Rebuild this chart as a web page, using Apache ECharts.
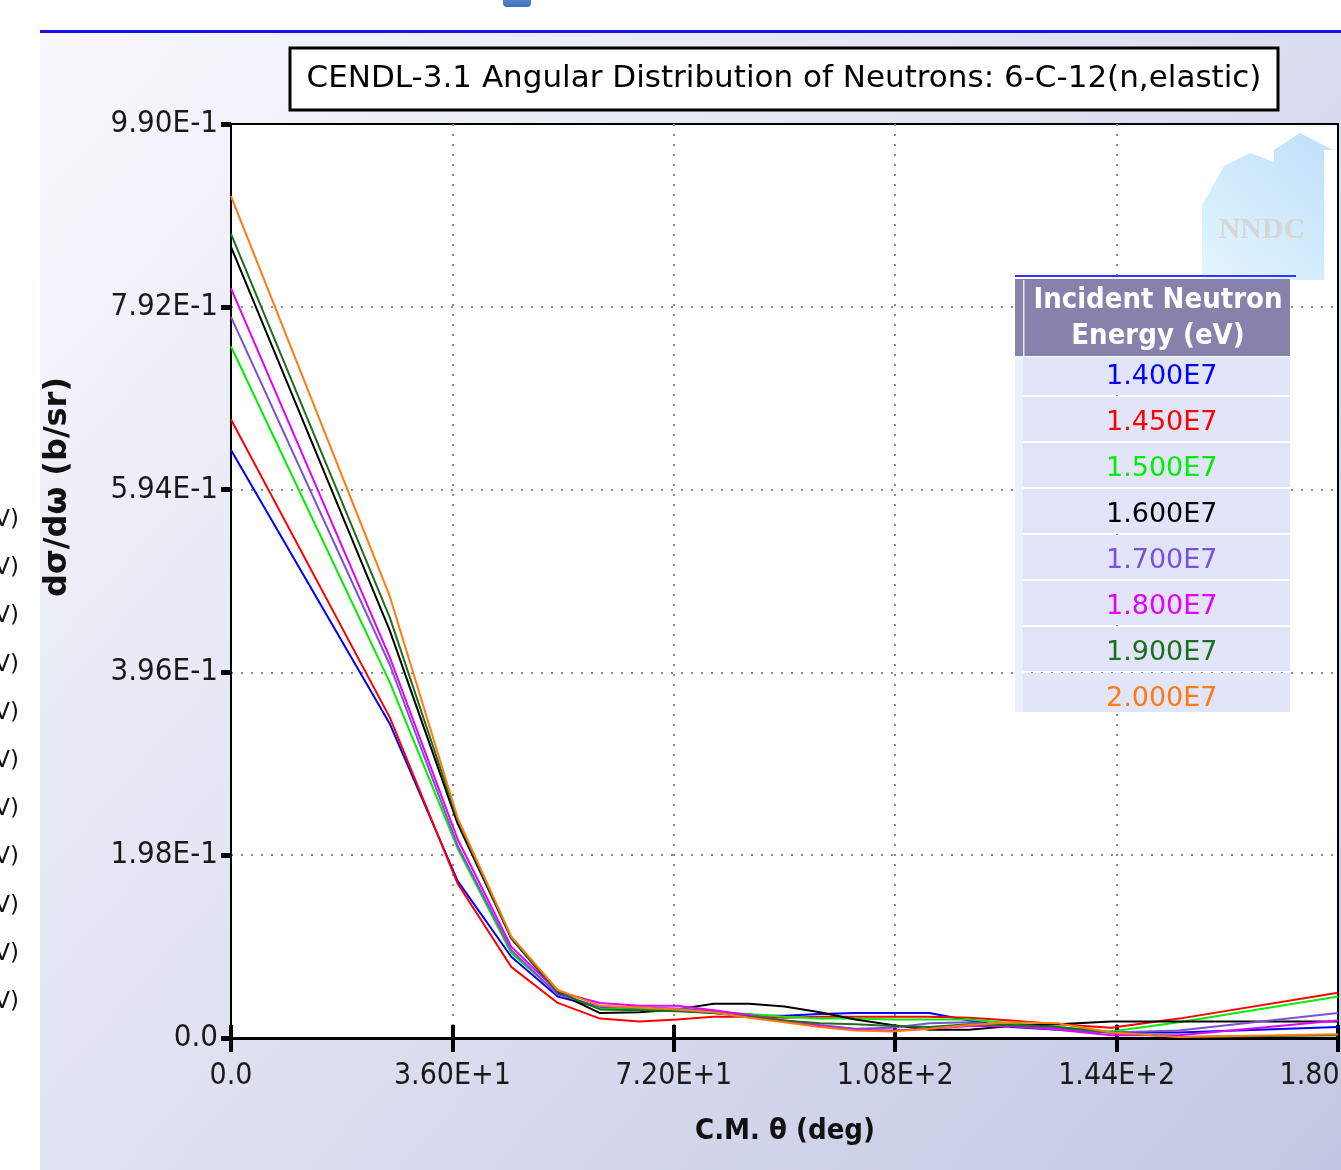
<!DOCTYPE html>
<html>
<head>
<meta charset="utf-8">
<script src="https://cdn.jsdelivr.net/npm/echarts@6/dist/echarts.min.js"></script>
<style>
  html, body { margin: 0; padding: 0; background: #fff; }
  #angular-chart { width: 1341px; height: 1170px; }
</style>
</head>
<body>
<div id="angular-chart"></div>
<script>
// C.M. angles (deg) of the tabulated points
const angles = [0, 25.84, 36.87, 45.57, 53.13, 60, 66.42, 72.54, 78.46, 84.26, 90, 95.74, 101.54, 107.46, 113.58, 120, 126.87, 134.43, 143.13, 154.16, 180];

// dσ/dω (b/sr) per incident energy
const e1400 = [0.637, 0.340, 0.170, 0.088, 0.045, 0.033, 0.031, 0.030, 0.027, 0.024, 0.024, 0.026, 0.027, 0.027, 0.027, 0.019, 0.012, 0.009, 0.006, 0.006, 0.012];
const e1450 = [0.670, 0.347, 0.167, 0.077, 0.038, 0.021, 0.018, 0.020, 0.023, 0.023, 0.022, 0.023, 0.023, 0.023, 0.023, 0.022, 0.019, 0.015, 0.011, 0.021, 0.049];
const e1500 = [0.749, 0.385, 0.205, 0.092, 0.048, 0.032, 0.031, 0.030, 0.028, 0.026, 0.023, 0.021, 0.021, 0.020, 0.020, 0.020, 0.016, 0.012, 0.007, 0.017, 0.045];
const e1600 = [0.857, 0.441, 0.232, 0.108, 0.049, 0.027, 0.028, 0.031, 0.037, 0.037, 0.034, 0.028, 0.020, 0.014, 0.009, 0.009, 0.013, 0.015, 0.018, 0.018, 0.018];
const e1700 = [0.781, 0.404, 0.208, 0.095, 0.047, 0.034, 0.033, 0.032, 0.029, 0.024, 0.019, 0.014, 0.010, 0.011, 0.016, 0.017, 0.013, 0.010, 0.006, 0.008, 0.027];
const e1800 = [0.812, 0.412, 0.215, 0.099, 0.050, 0.038, 0.035, 0.035, 0.030, 0.025, 0.018, 0.013, 0.009, 0.008, 0.010, 0.013, 0.013, 0.009, 0.003, 0.003, 0.019];
const e1900 = [0.871, 0.455, 0.236, 0.108, 0.050, 0.031, 0.030, 0.029, 0.027, 0.023, 0.019, 0.016, 0.015, 0.013, 0.012, 0.015, 0.014, 0.012, 0.006, 0.001, 0.003];
const e2000 = [0.912, 0.478, 0.238, 0.110, 0.052, 0.035, 0.033, 0.031, 0.028, 0.022, 0.017, 0.012, 0.008, 0.007, 0.010, 0.014, 0.017, 0.016, 0.006, 0.001, 0.004];

const energyNames = ['1.400E7', '1.450E7', '1.500E7', '1.600E7', '1.700E7', '1.800E7', '1.900E7', '2.000E7'];
const energyValues = [e1400, e1450, e1500, e1600, e1700, e1800, e1900, e2000];
const energyColors = ['#0000ff', '#ff0000', '#00ee00', '#000000', '#7b52d6', '#e400ff', '#1f6e1f', '#ff7a10'];

const xTickLabels = ['0.0', '3.60E+1', '7.20E+1', '1.08E+2', '1.44E+2', '1.80E+2'];
const yTickLabels = ['0.0', '1.98E-1', '3.96E-1', '5.94E-1', '7.92E-1', '9.90E-1'];

const condensed = '"DejaVu Sans Condensed", "DejaVu Sans", sans-serif';

const initChart = () => {
  const chartDom = document.getElementById('angular-chart');
  const myChart = echarts.init(chartDom, null, {renderer: 'canvas'});

  const series = energyNames.map((name, k) => ({
    name: name,
    type: 'line',
    showSymbol: false,
    data: angles.map((a, i) => [a, energyValues[k][i]]),
    lineStyle: {color: energyColors[k], width: 2},
    itemStyle: {color: energyColors[k]},
    z: 2 + k * 0.01
  }));

  // left margin leftovers from the neighbouring page
  const strayTexts = [];
  for (let i = 0; i < 11; i++) {
    strayTexts.push({
      type: 'text', z: 5,
      style: {x: 19, y: 520 + i * 48.2, text: 'eV)', align: 'right', verticalAlign: 'middle',
        font: '23px "DejaVu Sans", sans-serif', fill: '#111'}
    });
  }

  // legend table rows (first and last are a little shorter)
  const legendRows = energyNames.map((n, i) => {
    const top = Math.max(357, 351 + i * 46);
    const bottom = Math.min(712, 395 + i * 46);
    return {
      type: 'rect', z: 3,
      shape: {x: 1023, y: top, width: 267, height: bottom - top},
      style: {fill: '#e2e5fa'}
    };
  });

  const dotted = {lineStyle: {color: '#8c8c8c', width: 2, type: [2, 8]}, showMinLine: false, showMaxLine: false};

  const option = {
    animation: false,
    grid: {
      left: 231, right: 3, top: 124, bottom: 132,
      outerBoundsMode: 'none',
      containLabel: false,
      show: true, backgroundColor: '#ffffff', borderColor: '#000', borderWidth: 2
    },
    legend: {
      orient: 'vertical',
      left: 1096, top: 357,
      icon: 'none',
      itemWidth: 0, itemHeight: 30, itemGap: 16,
      z: 6,
      selectedMode: false,
      textStyle: {fontSize: 27, fontFamily: '"DejaVu Sans", sans-serif', lineHeight: 30},
      data: energyNames.map((n, i) => ({name: n, textStyle: {color: energyColors[i]}}))
    },
    xAxis: [{
      type: 'value', min: 0, max: 180, interval: 36,
      axisLine: {lineStyle: {color: '#000', width: 3}},
      axisTick: {length: 14, lineStyle: {color: '#000', width: 4}},
      axisLabel: {
        margin: 23, color: '#1a1a1a', fontSize: 30, fontFamily: condensed,
        formatter: v => xTickLabels[Math.round(v / 36)]
      },
      splitLine: dotted
    }, {
      type: 'value', min: 0, max: 180, interval: 36, position: 'bottom',
      axisLine: {show: false},
      axisTick: {inside: true, length: 13, lineStyle: {color: '#000', width: 4}},
      axisLabel: {show: false},
      splitLine: {show: false}
    }],
    yAxis: [{
      type: 'value', min: 0, max: 0.99, interval: 0.198,
      axisLine: {show: true, lineStyle: {color: '#000', width: 2}},
      axisTick: {show: true, length: 10, lineStyle: {color: '#000', width: 5}},
      axisLabel: {
        margin: 13, color: '#1a1a1a', fontSize: 31, fontFamily: condensed,
        formatter: v => yTickLabels[Math.round(v / 0.198)]
      },
      splitLine: dotted
    }],
    series: series,
    graphic: [
      {
        type: 'rect', z: -10, silent: true,
        shape: {x: 40, y: 32, width: 1301, height: 1138},
        style: {
          fill: new echarts.graphic.LinearGradient(0, 0, 1, 1, [
            {offset: 0, color: '#f8f8fd'},
            {offset: 0.5, color: '#dde0f0'},
            {offset: 1, color: '#c3c7e3'}
          ])
        }
      },
      {type: 'rect', z: 5, shape: {x: 40, y: 30, width: 1301, height: 3}, style: {fill: '#1414e6'}},
      {
        type: 'rect', z: 5, shape: {x: 503, y: -6, width: 28, height: 13, r: 4},
        style: {
          fill: new echarts.graphic.LinearGradient(0, 0, 0, 1, [
            {offset: 0, color: '#6f95d6'},
            {offset: 1, color: '#3b6bc0'}
          ])
        }
      },
      ...strayTexts,
      // title box
      {
        type: 'rect', z: 5, shape: {x: 290, y: 48, width: 988, height: 62},
        style: {fill: '#fff', stroke: '#000', lineWidth: 3}
      },
      {
        type: 'text', z: 6,
        style: {
          x: 784, y: 79, text: 'CENDL-3.1 Angular Distribution of Neutrons: 6-C-12(n,elastic)',
          align: 'center', verticalAlign: 'middle', font: '31px "DejaVu Sans", sans-serif', fill: '#000'
        }
      },
      // NNDC watermark
      {
        type: 'polygon', z: 1, silent: true,
        shape: {points: [[1202, 280], [1202, 205], [1224, 166], [1250, 153], [1274, 162], [1274, 150],
          [1300, 133], [1333, 150], [1324, 150], [1324, 280]]},
        style: {
          fill: new echarts.graphic.LinearGradient(1, 0, 0, 1, [
            {offset: 0, color: '#bfdff9'},
            {offset: 1, color: '#e4f6fe'}
          ])
        }
      },
      {
        type: 'text', z: 1, silent: true,
        style: {x: 1262, y: 230, text: 'NNDC', align: 'center', verticalAlign: 'middle',
          font: 'bold 30px "Liberation Serif", serif', fill: '#d6d6d6'}
      },
      // legend table
      {type: 'rect', z: 3, shape: {x: 1015, y: 275, width: 281, height: 2}, style: {fill: '#3333ff'}},
      {type: 'rect', z: 3, shape: {x: 1015, y: 279, width: 275, height: 77}, style: {fill: '#8782ab'}},
      {type: 'rect', z: 3, shape: {x: 1015, y: 356, width: 8, height: 356}, style: {fill: '#eef0fc'}},
      {type: 'rect', z: 4, shape: {x: 1023, y: 280, width: 1.5, height: 76}, style: {fill: '#e6e6f2'}},
      ...legendRows,
      {
        type: 'text', z: 5,
        style: {x: 1158, y: 300, text: 'Incident Neutron', align: 'center', verticalAlign: 'middle',
          font: 'bold 29px ' + condensed, fill: '#fff'}
      },
      {
        type: 'text', z: 5,
        style: {x: 1158, y: 336, text: 'Energy (eV)', align: 'center', verticalAlign: 'middle',
          font: 'bold 29px ' + condensed, fill: '#fff'}
      },
      // axis titles
      {
        type: 'text', z: 5, x: 58, y: 487, rotation: Math.PI / 2,
        style: {x: 0, y: 0, text: 'dσ/dω (b/sr)', align: 'center', verticalAlign: 'middle',
          font: 'bold 32px "DejaVu Sans", sans-serif', fill: '#111'}
      },
      {
        type: 'text', z: 5,
        style: {x: 785, y: 1131, text: 'C.M. θ (deg)', align: 'center', verticalAlign: 'middle',
          font: 'bold 29px ' + condensed, fill: '#111'}
      }
    ]
  };

  option && myChart.setOption(option);
};

initChart();
</script>
</body>
</html>
